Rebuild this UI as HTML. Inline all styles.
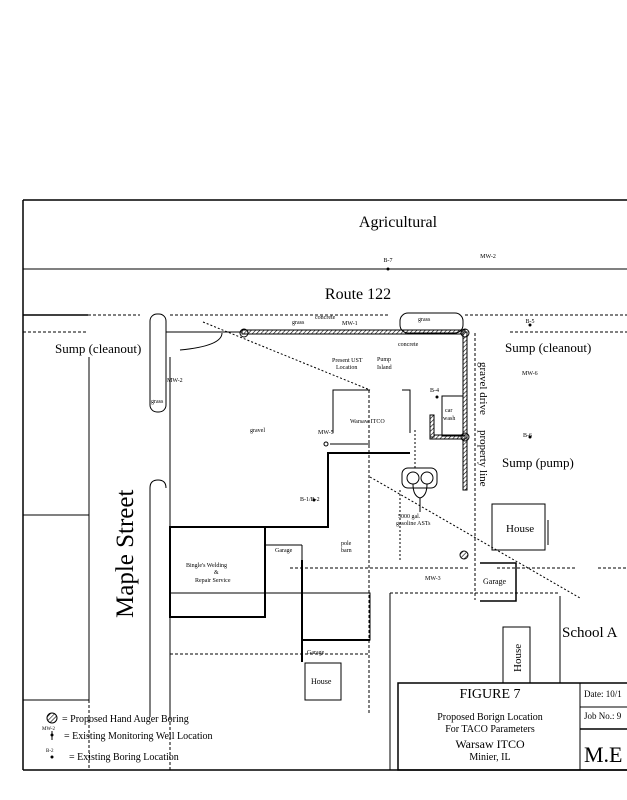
<!DOCTYPE html>
<html><head><style>
html,body{margin:0;padding:0;background:#fff;}
svg{display:block;font-family:"Liberation Serif",serif;}
.s{font-size:6px;}
</style></head><body>
<svg width="627" height="800" viewBox="0 0 627 800" xmlns="http://www.w3.org/2000/svg">
<defs>
<pattern id="h" width="3" height="3" patternUnits="userSpaceOnUse" patternTransform="rotate(45)">
<rect width="3" height="3" fill="#fff"/><line x1="0" y1="0" x2="0" y2="3" stroke="#000" stroke-width="1.2"/></pattern>
</defs>
<g fill="none" stroke="#000" stroke-width="1">
<line x1="23" y1="200" x2="627" y2="200" stroke-width="1.5"/>
<line x1="23" y1="200" x2="23" y2="770" stroke-width="1.5"/>
<line x1="23" y1="770" x2="627" y2="770" stroke-width="1.5"/>
<line x1="23" y1="269" x2="627" y2="269"/>
<line x1="23" y1="315" x2="88" y2="315" stroke-width="1.5"/>
<line x1="88" y1="315" x2="140" y2="315" stroke-dasharray="3,2"/>
<line x1="170" y1="315" x2="390" y2="315" stroke-dasharray="3,2"/>
<line x1="465" y1="315" x2="627" y2="315" stroke-dasharray="3,2"/>
<line x1="23" y1="332" x2="88" y2="332" stroke-dasharray="3,2"/>
<line x1="510" y1="332" x2="627" y2="332" stroke-dasharray="3,2"/>
<rect x="150" y="314" width="16" height="98" rx="7"/>
<path d="M150 717 L150 488 Q150 480 158 480 Q166 480 166 488"/>
<line x1="170" y1="357" x2="170" y2="717"/>
<line x1="170" y1="717" x2="170" y2="770" stroke-dasharray="3,2"/>
<line x1="89" y1="357" x2="89" y2="700"/>
<line x1="89" y1="700" x2="89" y2="770" stroke-dasharray="3,2"/>
<line x1="23" y1="515" x2="89" y2="515"/>
<line x1="166" y1="332" x2="242" y2="332"/>
<path d="M222 333 Q222 346 180 350"/>
<rect x="242" y="330" width="223" height="4" fill="url(#h)"/>
<rect x="463" y="332" width="4" height="158" fill="url(#h)"/>
<rect x="430" y="435" width="35" height="4" fill="url(#h)"/>
<rect x="430" y="415" width="4" height="22" fill="url(#h)"/>
<circle cx="244" cy="333" r="4"/>
<circle cx="465" cy="333" r="4"/>
<circle cx="465" cy="437" r="4"/>
<rect x="400" y="313" width="63" height="20" rx="8"/>
<line x1="475" y1="333" x2="475" y2="600" stroke-dasharray="3,2"/>
<rect x="442" y="396" width="21" height="40"/>
<polyline points="333,433 333,390 370,390"/>
<polyline points="402,390 410,390 410,433"/>
<line x1="330" y1="444" x2="370" y2="444"/>
<circle cx="326" cy="444" r="2"/>
<polyline points="170,527 328,527 328,453 410,453" stroke-width="2"/>
<line x1="369" y1="390" x2="369" y2="715" stroke-dasharray="3,2"/>
<line x1="203" y1="322" x2="370" y2="390" stroke-dasharray="2,2"/>
<line x1="370" y1="477" x2="580" y2="598" stroke-dasharray="2,2"/>
<line x1="415" y1="430" x2="415" y2="470" stroke-dasharray="2,2"/>
<line x1="400" y1="490" x2="400" y2="560" stroke-dasharray="2,2"/>
<rect x="402" y="468" width="35" height="20" rx="6"/>
<circle cx="413" cy="478" r="6"/><circle cx="427" cy="478" r="6"/>
<path d="M413 484 Q413 496 420 498 Q427 496 427 484"/>
<line x1="420" y1="498" x2="420" y2="512"/>
<rect x="170" y="527" width="95" height="90" stroke-width="2"/>
<line x1="170" y1="593" x2="370" y2="593"/>
<line x1="265" y1="545" x2="302" y2="545"/>
<line x1="302" y1="545" x2="302" y2="593"/>
<line x1="302" y1="560" x2="302" y2="662" stroke-width="2"/>
<rect x="302" y="593" width="68" height="47"/>
<line x1="302" y1="640" x2="370" y2="640" stroke-width="2"/>
<line x1="170" y1="654" x2="370" y2="654" stroke-dasharray="3,2"/>
<rect x="305" y="663" width="36" height="37"/>
<rect x="492" y="504" width="53" height="46"/>
<line x1="548" y1="520" x2="548" y2="545"/>
<line x1="290" y1="568" x2="470" y2="568" stroke-dasharray="3,2"/>
<line x1="497" y1="568" x2="575" y2="568" stroke-dasharray="3,2"/>
<line x1="598" y1="568" x2="627" y2="568" stroke-dasharray="3,2"/>
<polyline points="480,563 516,563 516,601 480,601" stroke-width="1.5"/>
<line x1="390" y1="593" x2="560" y2="593" stroke-dasharray="3,2"/>
<line x1="390" y1="593" x2="390" y2="770"/>
<line x1="560" y1="596" x2="560" y2="683"/>
<rect x="503" y="627" width="27" height="56"/>
<line x1="23" y1="700" x2="89" y2="700"/>
<rect x="398" y="683" width="240" height="87" stroke-width="1.5"/>
<line x1="580" y1="683" x2="580" y2="770"/>
<line x1="580" y1="707" x2="627" y2="707"/>
<line x1="580" y1="729" x2="627" y2="729" stroke-width="1.5"/>
<circle cx="464" cy="555" r="4" fill="url(#h)"/>
<circle cx="52" cy="718" r="5" fill="url(#h)"/>
<line x1="52" y1="731" x2="52" y2="740"/>
</g>
<g fill="#000">
<circle cx="388" cy="269" r="1.5"/><circle cx="530" cy="325" r="1.5"/><circle cx="530" cy="437" r="1.5"/>
<circle cx="437" cy="397" r="1.5"/><circle cx="314" cy="500" r="1.5"/><circle cx="52" cy="757" r="1.5"/>
<circle cx="52" cy="735" r="1.5"/>
<text x="398" y="227" font-size="16" text-anchor="middle">Agricultural</text>
<text x="358" y="299" font-size="16" text-anchor="middle">Route 122</text>
<text x="388" y="262" class="s" text-anchor="middle">B-7</text>
<text x="488" y="258" class="s" text-anchor="middle">MW-2</text>
<text x="530" y="323" class="s" text-anchor="middle">B-5</text>
<text x="55" y="353" font-size="13">Sump (cleanout)</text>
<text x="505" y="352" font-size="13">Sump (cleanout)</text>
<text x="502" y="467" font-size="13">Sump (pump)</text>
<text x="151" y="403" class="s">grass</text>
<text x="167" y="382" class="s">MW-2</text>
<text x="292" y="324" class="s">grass</text>
<text x="315" y="319" class="s">concrete</text>
<text x="342" y="325" class="s">MW-1</text>
<text x="418" y="321" class="s">grass</text>
<text x="398" y="346" class="s">concrete</text>
<text x="332" y="362" class="s">Present UST</text>
<text x="336" y="369" class="s">Location</text>
<text x="377" y="361" class="s">Pump</text>
<text x="377" y="369" class="s">Island</text>
<text x="250" y="432" class="s">gravel</text>
<text x="350" y="423" class="s">Warsaw ITCO</text>
<text x="318" y="434" class="s">MW-5</text>
<text x="300" y="501" class="s">B-1/B-2</text>
<text x="430" y="392" class="s">B-4</text>
<text x="445" y="412" class="s">car</text>
<text x="443" y="420" class="s">wash</text>
<text x="522" y="375" class="s">MW-6</text>
<text x="523" y="437" class="s">B-6</text>
<text x="470" y="372" font-size="11" transform="rotate(90 480 372)">gravel drive</text>
<text x="470" y="440" font-size="11" transform="rotate(90 480 440)">property line</text>
<text x="398" y="518" class="s">5000 gal.</text>
<text x="396" y="525" class="s">gasoline ASTs</text>
<text x="506" y="532" font-size="11">House</text>
<text x="483" y="584" font-size="8">Garage</text>
<text x="425" y="580" class="s">MW-3</text>
<text x="341" y="545" class="s">pole</text>
<text x="341" y="552" class="s">barn</text>
<text x="275" y="552" class="s">Garage</text>
<text x="186" y="567" class="s">Bingle's Welding</text>
<text x="214" y="574" class="s">&amp;</text>
<text x="195" y="582" class="s">Repair Service</text>
<text x="307" y="654" class="s">Garage</text>
<text x="311" y="684" font-size="8">House</text>
<text x="0" y="0" font-size="11" transform="translate(521 672) rotate(-90)">House</text>
<text x="0" y="0" font-size="25" transform="translate(133 618) rotate(-90)">Maple Street</text>
<text x="562" y="637" font-size="15">School A</text>
<text x="490" y="698" font-size="14" text-anchor="middle">FIGURE 7</text>
<text x="490" y="720" font-size="10" text-anchor="middle">Proposed Borign Location</text>
<text x="490" y="732" font-size="10" text-anchor="middle">For TACO Parameters</text>
<text x="490" y="748" font-size="12" text-anchor="middle">Warsaw ITCO</text>
<text x="490" y="760" font-size="10" text-anchor="middle">Minier, IL</text>
<text x="584" y="697" font-size="9">Date: 10/1</text>
<text x="584" y="719" font-size="9">Job No.: 9</text>
<text x="584" y="762" font-size="22">M.E</text>
<text x="62" y="722" font-size="10">= Proposed Hand Auger Boring</text>
<text x="42" y="730" font-size="5">MW-2</text>
<text x="64" y="739" font-size="10">= Existing Monitoring Well Location</text>
<text x="46" y="752" font-size="5">B-2</text>
<text x="69" y="760" font-size="10">= Existing Boring Location</text>
</g>
</svg>
</body></html>
